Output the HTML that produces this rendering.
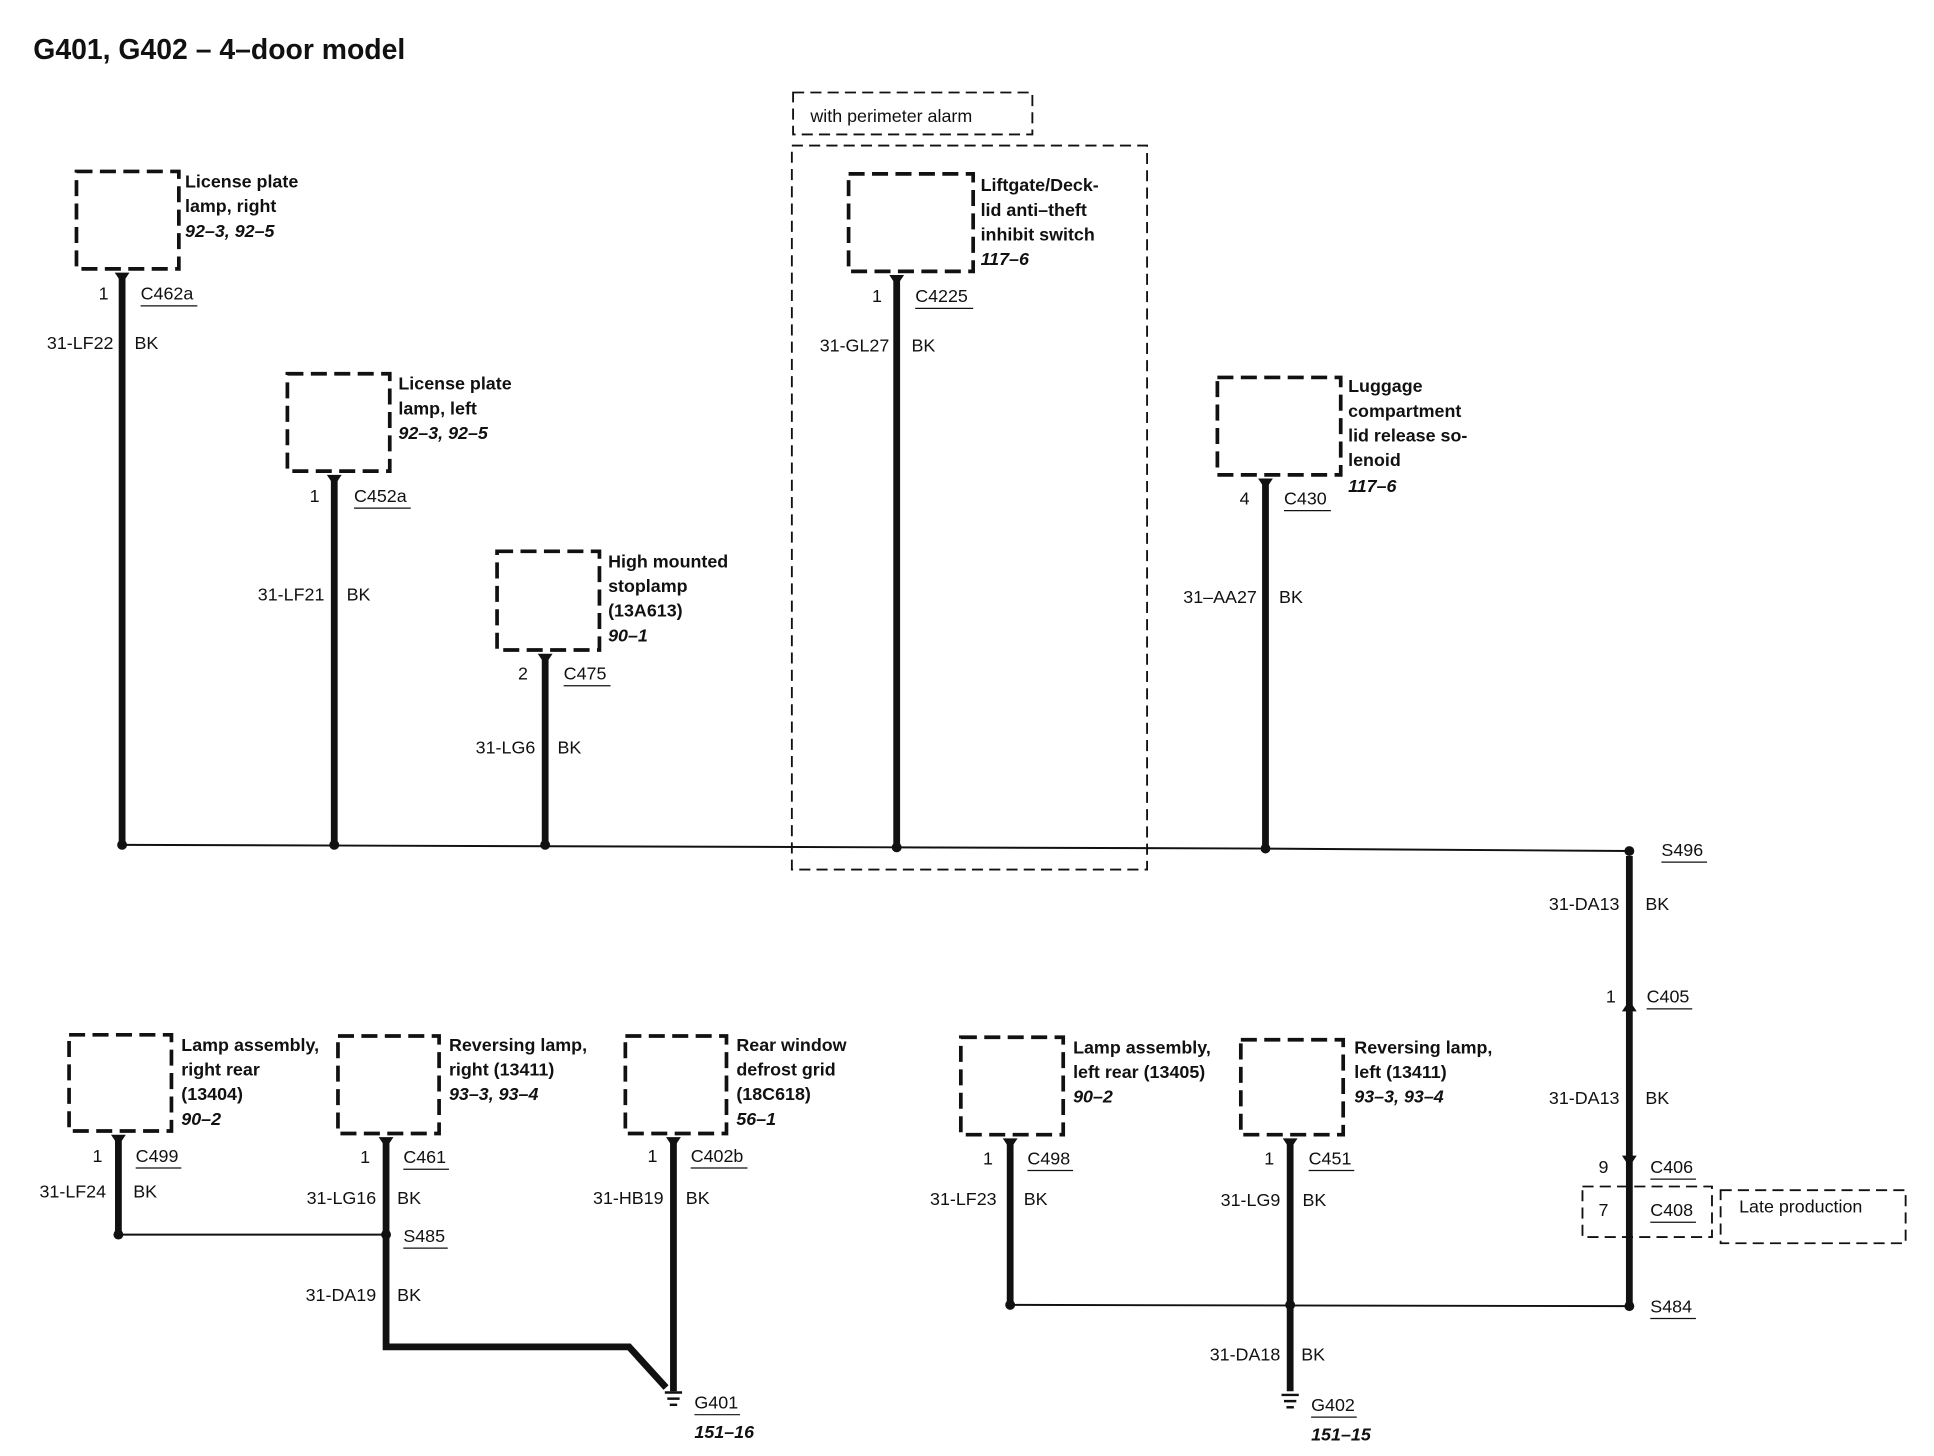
<!DOCTYPE html>
<html><head><meta charset="utf-8"><style>
html,body{margin:0;padding:0;background:#fff;}
svg{display:block;}
text{font-family:"Liberation Sans",Arial,sans-serif;fill:#111;}
.l{font-size:14.5px;}
.b{font-size:14.5px;font-weight:bold;}
.i{font-size:14.5px;font-weight:bold;font-style:italic;}
.box{fill:none;stroke:#111;stroke-width:3;stroke-dasharray:13 6;}
.tbox{fill:none;stroke:#111;stroke-width:1.5;stroke-dasharray:9 5;}
.w{stroke:#111;stroke-width:5.5;fill:none;}
.t{stroke:#111;stroke-width:1.6;fill:none;}
.u{stroke:#111;stroke-width:1;}
</style></head><body>
<svg width="1934" height="1456" viewBox="0 0 1568 1180.5" preserveAspectRatio="none">
<rect width="1568" height="1181" fill="#fff"/>
<text x="27" y="48" style="font-size:23px;font-weight:bold">G401, G402 – 4–door model</text>

<rect class="tbox" x="643" y="75" width="194" height="34"/>
<text class="l" x="657" y="99">with perimeter alarm</text>
<rect class="tbox" x="642" y="118" width="288" height="587"/>

<!-- main horizontal -->
<polyline class="t" points="99,685 727,687 1026,688 1321,690"/>
<g fill="#111">
<circle cx="99" cy="685" r="4"/><circle cx="271" cy="685" r="4"/><circle cx="442" cy="685" r="4"/>
<circle cx="727" cy="687" r="4"/><circle cx="1026" cy="688" r="4"/><circle cx="1321" cy="690" r="4"/>
</g>

<!-- 1 -->
<rect class="box" x="62" y="139" width="83" height="79"/>
<line class="w" x1="99" y1="222" x2="99" y2="685"/>
<polygon points="93,221 105,221 99,230" fill="#111"/>
<text class="l" x="80" y="243">1</text>
<text class="l" x="114" y="243">C462a</text><line class="u" x1="114" y1="248" x2="160" y2="248"/>
<text class="l" x="92" y="283" text-anchor="end">31-LF22</text><text class="l" x="109" y="283">BK</text>
<text class="b" x="150" y="152">License plate</text><text class="b" x="150" y="172">lamp, right</text><text class="i" x="150" y="192">92–3, 92–5</text>

<!-- 2 -->
<rect class="box" x="233" y="303" width="83" height="79"/>
<line class="w" x1="271" y1="386" x2="271" y2="685"/>
<polygon points="265,385 277,385 271,394" fill="#111"/>
<text class="l" x="251" y="407">1</text>
<text class="l" x="287" y="407">C452a</text><line class="u" x1="287" y1="412" x2="333" y2="412"/>
<text class="l" x="263" y="487" text-anchor="end">31-LF21</text><text class="l" x="281" y="487">BK</text>
<text class="b" x="323" y="316">License plate</text><text class="b" x="323" y="336">lamp, left</text><text class="i" x="323" y="356">92–3, 92–5</text>

<!-- 3 -->
<rect class="box" x="403" y="447" width="83" height="80"/>
<line class="w" x1="442" y1="531" x2="442" y2="685"/>
<polygon points="436,530 448,530 442,539" fill="#111"/>
<text class="l" x="420" y="551">2</text>
<text class="l" x="457" y="551">C475</text><line class="u" x1="457" y1="556" x2="495" y2="556"/>
<text class="l" x="434" y="611" text-anchor="end">31-LG6</text><text class="l" x="452" y="611">BK</text>
<text class="b" x="493" y="460">High mounted</text><text class="b" x="493" y="480">stoplamp</text><text class="b" x="493" y="500">(13A613)</text><text class="i" x="493" y="520">90–1</text>

<!-- 4 -->
<rect class="box" x="688" y="141" width="101" height="79"/>
<line class="w" x1="727" y1="224" x2="727" y2="687"/>
<polygon points="721,223 733,223 727,232" fill="#111"/>
<text class="l" x="707" y="245">1</text>
<text class="l" x="742" y="245">C4225</text><line class="u" x1="742" y1="250" x2="789" y2="250"/>
<text class="l" x="721" y="285" text-anchor="end">31-GL27</text><text class="l" x="739" y="285">BK</text>
<text class="b" x="795" y="155">Liftgate/Deck-</text><text class="b" x="795" y="175">lid anti–theft</text><text class="b" x="795" y="195">inhibit switch</text><text class="i" x="795" y="215">117–6</text>

<!-- 5 -->
<rect class="box" x="987" y="306" width="100" height="79"/>
<line class="w" x1="1026" y1="389" x2="1026" y2="688"/>
<polygon points="1020,388 1032,388 1026,397" fill="#111"/>
<text class="l" x="1005" y="409">4</text>
<text class="l" x="1041" y="409">C430</text><line class="u" x1="1041" y1="414" x2="1079" y2="414"/>
<text class="l" x="1019" y="489" text-anchor="end">31–AA27</text><text class="l" x="1037" y="489">BK</text>
<text class="b" x="1093" y="318">Luggage</text><text class="b" x="1093" y="338">compartment</text><text class="b" x="1093" y="358">lid release so-</text><text class="b" x="1093" y="378">lenoid</text><text class="i" x="1093" y="399">117–6</text>

<!-- right vertical -->
<text class="l" x="1347" y="694">S496</text><line class="u" x1="1347" y1="699" x2="1384" y2="699"/>
<line class="w" x1="1321" y1="694" x2="1321" y2="1058"/>
<text class="l" x="1313" y="738" text-anchor="end">31-DA13</text><text class="l" x="1334" y="738">BK</text>
<polygon points="1315,820 1327,820 1321,811" fill="#111"/>
<text class="l" x="1302" y="813">1</text>
<text class="l" x="1335" y="813">C405</text><line class="u" x1="1335" y1="818" x2="1372" y2="818"/>
<text class="l" x="1313" y="895" text-anchor="end">31-DA13</text><text class="l" x="1334" y="895">BK</text>
<polygon points="1315,937 1327,937 1321,946" fill="#111"/>
<text class="l" x="1296" y="951">9</text>
<text class="l" x="1338" y="951">C406</text><line class="u" x1="1338" y1="956" x2="1375" y2="956"/>
<rect class="tbox" x="1283" y="962" width="105" height="41"/>
<text class="l" x="1296" y="986">7</text>
<text class="l" x="1338" y="986">C408</text><line class="u" x1="1338" y1="991" x2="1375" y2="991"/>
<rect class="tbox" x="1395" y="965" width="150" height="43"/>
<text class="l" x="1410" y="983">Late production</text>
<circle cx="1321" cy="1059" r="4" fill="#111"/>
<text class="l" x="1338" y="1064">S484</text><line class="u" x1="1338" y1="1069" x2="1375" y2="1069"/>

<!-- bottom left -->
<rect class="box" x="56" y="839" width="83" height="78"/>
<line class="w" x1="96" y1="921" x2="96" y2="1001"/>
<polygon points="90,920 102,920 96,929" fill="#111"/>
<text class="l" x="75" y="942">1</text>
<text class="l" x="110" y="942">C499</text><line class="u" x1="110" y1="947" x2="147" y2="947"/>
<text class="l" x="86" y="971" text-anchor="end">31-LF24</text><text class="l" x="108" y="971">BK</text>
<text class="b" x="147" y="852">Lamp assembly,</text><text class="b" x="147" y="872">right rear</text><text class="b" x="147" y="892">(13404)</text><text class="i" x="147" y="912">90–2</text>

<line class="t" x1="96" y1="1001" x2="313" y2="1001"/>
<circle cx="96" cy="1001" r="4" fill="#111"/><circle cx="313" cy="1001" r="4" fill="#111"/>

<rect class="box" x="274" y="840" width="82" height="79"/>
<polyline class="w" points="313,923 313,1092 510,1092 540,1125"/>
<polygon points="307,922 319,922 313,931" fill="#111"/>
<text class="l" x="292" y="943">1</text>
<text class="l" x="327" y="943">C461</text><line class="u" x1="327" y1="948" x2="364" y2="948"/>
<text class="l" x="305" y="976" text-anchor="end">31-LG16</text><text class="l" x="322" y="976">BK</text>
<text class="l" x="327" y="1007">S485</text><line class="u" x1="327" y1="1012" x2="363" y2="1012"/>
<text class="l" x="305" y="1055" text-anchor="end">31-DA19</text><text class="l" x="322" y="1055">BK</text>
<text class="b" x="364" y="852">Reversing lamp,</text><text class="b" x="364" y="872">right (13411)</text><text class="i" x="364" y="892">93–3, 93–4</text>

<rect class="box" x="507" y="840" width="82" height="79"/>
<line class="w" x1="546" y1="923" x2="546" y2="1128"/>
<polygon points="540,922 552,922 546,931" fill="#111"/>
<text class="l" x="525" y="942">1</text>
<text class="l" x="560" y="942">C402b</text><line class="u" x1="560" y1="947" x2="606" y2="947"/>
<text class="l" x="538" y="976" text-anchor="end">31-HB19</text><text class="l" x="556" y="976">BK</text>
<text class="b" x="597" y="852">Rear window</text><text class="b" x="597" y="872">defrost grid</text><text class="b" x="597" y="892">(18C618)</text><text class="i" x="597" y="912">56–1</text>
<g stroke="#111" stroke-width="2"><line x1="539" y1="1129" x2="553" y2="1129"/><line x1="541" y1="1134" x2="551" y2="1134"/><line x1="543" y1="1139" x2="549" y2="1139"/></g>
<text class="l" x="563" y="1142">G401</text><line class="u" x1="563" y1="1147" x2="600" y2="1147"/>
<text class="i" x="563" y="1166">151–16</text>

<!-- bottom right -->
<rect class="box" x="779" y="841" width="83" height="79"/>
<line class="w" x1="819" y1="924" x2="819" y2="1058"/>
<polygon points="813,923 825,923 819,932" fill="#111"/>
<text class="l" x="797" y="944">1</text>
<text class="l" x="833" y="944">C498</text><line class="u" x1="833" y1="949" x2="870" y2="949"/>
<text class="l" x="808" y="977" text-anchor="end">31-LF23</text><text class="l" x="830" y="977">BK</text>
<text class="b" x="870" y="854">Lamp assembly,</text><text class="b" x="870" y="874">left rear (13405)</text><text class="i" x="870" y="894">90–2</text>

<rect class="box" x="1006" y="843" width="83" height="77"/>
<line class="w" x1="1046" y1="924" x2="1046" y2="1128"/>
<polygon points="1040,923 1052,923 1046,932" fill="#111"/>
<text class="l" x="1025" y="944">1</text>
<text class="l" x="1061" y="944">C451</text><line class="u" x1="1061" y1="949" x2="1098" y2="949"/>
<text class="l" x="1038" y="978" text-anchor="end">31-LG9</text><text class="l" x="1056" y="978">BK</text>
<text class="b" x="1098" y="854">Reversing lamp,</text><text class="b" x="1098" y="874">left (13411)</text><text class="i" x="1098" y="894">93–3, 93–4</text>

<line class="t" x1="819" y1="1058" x2="1321" y2="1059"/>
<circle cx="819" cy="1058" r="4" fill="#111"/><circle cx="1046" cy="1058" r="4" fill="#111"/>
<text class="l" x="1038" y="1103" text-anchor="end">31-DA18</text><text class="l" x="1055" y="1103">BK</text>
<g stroke="#111" stroke-width="2"><line x1="1039" y1="1131" x2="1053" y2="1131"/><line x1="1041" y1="1136" x2="1051" y2="1136"/><line x1="1043" y1="1141" x2="1049" y2="1141"/></g>
<text class="l" x="1063" y="1144">G402</text><line class="u" x1="1063" y1="1149" x2="1100" y2="1149"/>
<text class="i" x="1063" y="1168">151–15</text>
</svg>
</body></html>
